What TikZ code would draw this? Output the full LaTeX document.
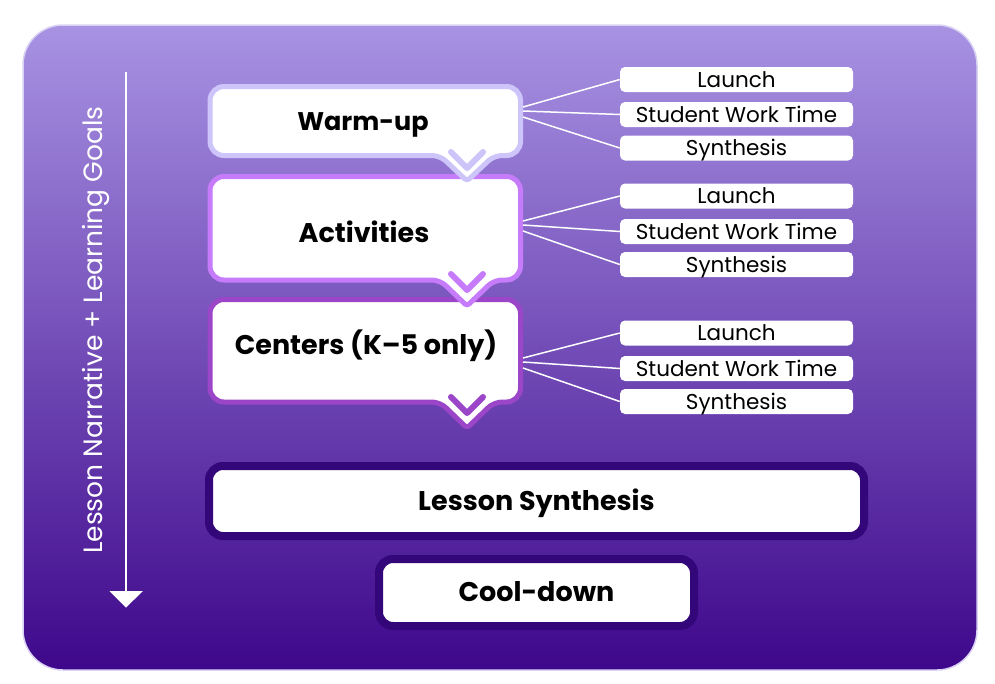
\documentclass[tikz,border=0pt]{standalone}
\usepackage{fontspec}
\setmainfont{Poppins}
\definecolor{bgtop}{HTML}{A893E3}
\definecolor{bgmid}{HTML}{7A55C8}
\definecolor{bgbot}{HTML}{3E078B}
\definecolor{bgedge}{HTML}{D9D2F2}
\definecolor{cWarm}{HTML}{CDC5FA}
\definecolor{cAct}{HTML}{C67CFA}
\definecolor{cCen}{HTML}{9B45C9}
\definecolor{cDark}{HTML}{33067A}
\begin{document}
\begin{tikzpicture}[x=1pt,y=-1pt,
  bigtext/.style={font=\fontsize{27}{27}\selectfont\bfseries, text=black, anchor=base},
  sub/.style={fill=white, rounded corners=5, minimum width=233, minimum height=25, inner sep=0pt, text height=15.5pt, text depth=0pt, font=\fontsize{21.5}{21.5}\selectfont, text=black},
  fan/.style={draw=white, line width=1.5},
  bubble/.style={fill=white, line width=5, line join=round},
  chev/.style={line width=6, line cap=round, line join=round},
  darkbox/.style={fill=white, draw=cDark, line width=8, rounded corners=14, inner sep=0pt}]
\useasboundingbox (0,0) rectangle (995,683);
\fill[white] (0,0) rectangle (995,683);
\shade[top color=bgtop, middle color=bgmid, bottom color=bgbot, rounded corners=40] (23,25) rectangle (977,670);
\draw[bgedge, line width=1.5, rounded corners=40] (23,25) rectangle (977,670);

% left arrow and label
\coordinate (arrTop) at (126,72);
\coordinate (arrBot) at (126,593);
\draw[white, line width=2.5] (arrTop) -- (arrBot);
\fill[white] (109.5,591) -- (143,591) -- (126,607.5) -- cycle;
\node[rotate=90, text=white, font=\fontsize{26.5}{26.5}\selectfont, anchor=base] (narr) at (102.5,330) {Lesson Narrative + Learning Goals};

% Centers bubble
\filldraw[bubble, draw=cCen, rounded corners=14] (210,299.5) -- (520.5,299.5) -- (520.5,402) [rounded corners=8] -- (494,402) [rounded corners=3] -- (467,428) [rounded corners=8] -- (440,402) [rounded corners=14] -- (210,402) -- cycle;
\draw[chev, cCen] (451,397) -- (467,413) -- (483,397);
\node[bigtext] (cen) at (366,354) {Centers (K–5 only)};
\coordinate (cenE) at (523,363);

% Activities bubble
\filldraw[bubble, draw=cAct, rounded corners=14] (210,176.5) -- (520.5,176.5) -- (520.5,280) [rounded corners=8] -- (494,280) [rounded corners=3] -- (467,306) [rounded corners=8] -- (440,280) [rounded corners=14] -- (210,280) -- cycle;
\draw[chev, cAct] (451,274) -- (467,290) -- (483,274);
\node[bigtext] (act) at (364,242) {Activities};
\coordinate (actE) at (523,226);

% Warm-up bubble
\filldraw[bubble, draw=cWarm, rounded corners=14] (210,86.5) -- (520.5,86.5) -- (520.5,155.5) [rounded corners=8] -- (494,155.5) [rounded corners=3] -- (467,181) [rounded corners=8] -- (440,155.5) [rounded corners=14] -- (210,155.5) -- cycle;
\draw[chev, cWarm] (451,152) -- (467,168) -- (483,152);
\node[bigtext, font=\fontsize{25.5}{25.5}\selectfont\bfseries] (warm) at (363,130) {Warm-up};
\coordinate (warmE) at (523,112);

% sub boxes
\node[sub] (w1) at (736.5,79.5) {Launch};
\node[sub] (w2) at (736.5,114.5) {Student Work Time};
\node[sub] (w3) at (736.5,148) {Synthesis};
\node[sub] (a1) at (736.5,196) {Launch};
\node[sub] (a2) at (736.5,231.5) {Student Work Time};
\node[sub] (a3) at (736.5,264.5) {Synthesis};
\node[sub] (c1) at (736.5,333) {Launch};
\node[sub] (c2) at (736.5,368.5) {Student Work Time};
\node[sub] (c3) at (736.5,401.5) {Synthesis};

% fans
\draw[fan] ([yshift=5pt]warmE) -- (w1.west);
\draw[fan] ([yshift=1pt]warmE) -- (w2.west);
\draw[fan] ([yshift=-5pt]warmE) -- (w3.west);
\draw[fan] ([yshift=5pt]actE) -- (a1.west);
\draw[fan] ([yshift=1pt]actE) -- (a2.west);
\draw[fan] ([yshift=-5pt]actE) -- (a3.west);
\draw[fan] ([yshift=5pt]cenE) -- (c1.west);
\draw[fan] ([yshift=1pt]cenE) -- (c2.west);
\draw[fan] ([yshift=-5pt]cenE) -- (c3.west);

% lower boxes
\node[darkbox, minimum width=655, minimum height=70] (ls) at (536.5,501) {};
\node[bigtext] (lst) at (536.5,510.5) {Lesson Synthesis};
\node[darkbox, minimum width=315, minimum height=67] (cd) at (536.5,592.5) {};
\node[bigtext] (cdt) at (536.5,601) {Cool-down};
\end{tikzpicture}
\end{document}
